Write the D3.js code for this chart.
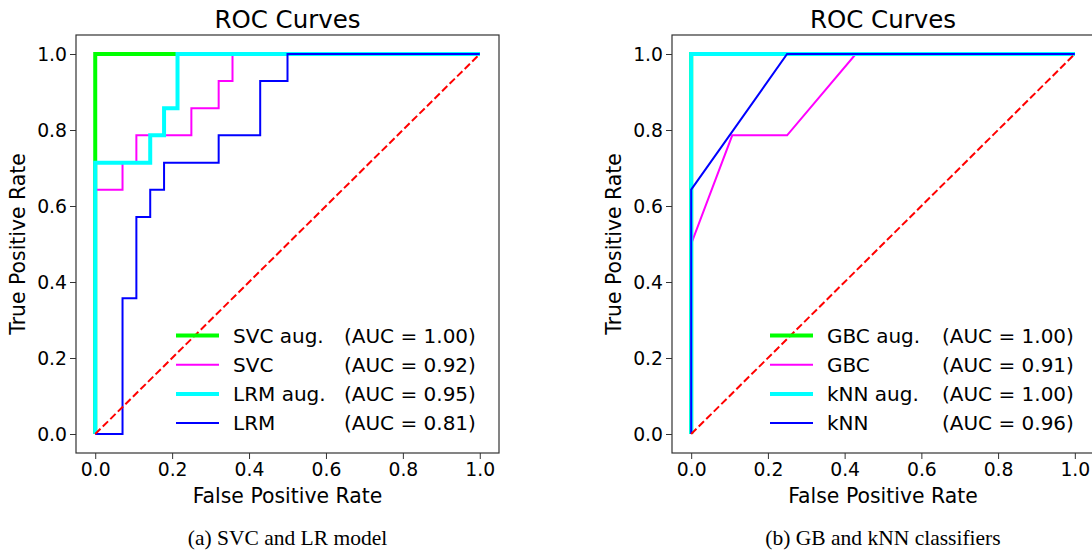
<!DOCTYPE html>
<html lang="en">
<head>
  <meta charset="UTF-8">
  <title>ROC Curves</title>
  <style>
    body { margin: 0; background: #fff; }
    text { font-family: "DejaVu Sans", sans-serif; fill: #000; }
    .caption { font-family: "Liberation Serif", "Times New Roman", serif; }
  </style>
</head>
<body>

  <section class="plot"></section>

  <script src="https://cdn.jsdelivr.net/npm/d3@7/dist/d3.min.js"></script>
  <script>
    // Data - (a) SVC and LR model
    const svcAugFpr = [0, 0, 1];
    const svcAugTpr = [0, 1, 1];
    const svcFpr = [0, 0, 0.071, 0.071, 0.107, 0.107, 0.25, 0.25, 0.321, 0.321, 0.357, 0.357, 1];
    const svcTpr = [0, 0.643, 0.643, 0.714, 0.714, 0.786, 0.786, 0.857, 0.857, 0.929, 0.929, 1, 1];
    const lrmAugFpr = [0, 0, 0.143, 0.143, 0.179, 0.179, 0.214, 0.214, 1];
    const lrmAugTpr = [0, 0.714, 0.714, 0.786, 0.786, 0.857, 0.857, 1, 1];
    const lrmFpr = [0, 0.071, 0.071, 0.107, 0.107, 0.143, 0.143, 0.179, 0.179, 0.321, 0.321, 0.429, 0.429, 0.5, 0.5, 1];
    const lrmTpr = [0, 0, 0.357, 0.357, 0.571, 0.571, 0.643, 0.643, 0.714, 0.714, 0.786, 0.786, 0.929, 0.929, 1, 1];

    // Data - (b) GB and kNN classifiers
    const gbcAugFpr = [0, 0, 1];
    const gbcAugTpr = [0, 1, 1];
    const gbcFpr = [0, 0, 0.107, 0.25, 0.429, 1];
    const gbcTpr = [0, 0.5, 0.786, 0.786, 1, 1];
    const knnAugFpr = [0, 0, 1];
    const knnAugTpr = [0, 1, 1];
    const knnFpr = [0, 0, 0.25, 1];
    const knnTpr = [0, 0.643, 1, 1];

    const namesA = ["SVC aug.", "SVC", "LRM aug.", "LRM"];
    const aucA = ["1.00", "0.92", "0.95", "0.81"];
    const namesB = ["GBC aug.", "GBC", "kNN aug.", "kNN"];
    const aucB = ["1.00", "0.91", "1.00", "0.96"];
    const captions = ["(a) SVC and LR model", "(b) GB and kNN classifiers"];
    const ticks = [0, 0.2, 0.4, 0.6, 0.8, 1.0];
    const diagonal = [0, 1];

    // line styles, same order for both panels
    const colors = ["#00ff00", "#ff00ff", "#00ffff", "#0000ff"];
    const widths = [4, 2, 4, 2];

    const svg = d3.select(".plot")
      .append("svg")
      .attr("width", 1092)
      .attr("height", 550);

    const panels = [
      { left: 76, right: 499, legendX: 176, aucX: 344, caption: captions[0], names: namesA, auc: aucA,
        series: [[svcAugFpr, svcAugTpr], [svcFpr, svcTpr], [lrmAugFpr, lrmAugTpr], [lrmFpr, lrmTpr]] },
      { left: 672, right: 1094, legendX: 770, aucX: 942, caption: captions[1], names: namesB, auc: aucB,
        series: [[gbcAugFpr, gbcAugTpr], [gbcFpr, gbcTpr], [knnAugFpr, knnAugTpr], [knnFpr, knnTpr]] }
    ];
    const plotTop = 35, plotBottom = 453;

    panels.forEach(p => {
      const g = svg.append("g");
      const x = d3.scaleLinear().domain([-0.05, 1.05]).range([p.left, p.right]);
      const y = d3.scaleLinear().domain([-0.05, 1.05]).range([plotBottom, plotTop]);
      const cx = (p.left + p.right) / 2;

      // Curves
      const line = d3.line().x(d => x(d[0])).y(d => y(d[1]));
      p.series.forEach((s, i) => {
        g.append("path")
          .attr("d", line(d3.zip(s[0], s[1])))
          .attr("fill", "none")
          .attr("stroke", colors[i])
          .attr("stroke-width", widths[i])
          .attr("stroke-linejoin", "miter");
      });

      // Chance line
      g.append("path")
        .attr("d", line(d3.zip(diagonal, diagonal)))
        .attr("fill", "none")
        .attr("stroke", "#ff0000")
        .attr("stroke-width", 2)
        .attr("stroke-dasharray", "7.4 3.2");

      // Axes
      const xAxis = g.append("g")
        .attr("transform", `translate(0,${plotBottom})`)
        .call(d3.axisBottom(x).tickValues(ticks).tickFormat(d3.format(".1f")).tickSize(6).tickPadding(4));
      const yAxis = g.append("g")
        .attr("transform", `translate(${p.left},0)`)
        .call(d3.axisLeft(y).tickValues(ticks).tickFormat(d3.format(".1f")).tickSize(6).tickPadding(3));
      [xAxis, yAxis].forEach(a => {
        a.select(".domain").remove();
        a.selectAll("line").attr("stroke", "#333");
        a.selectAll("text").attr("font-size", "18.8px").attr("font-family", "DejaVu Sans").attr("fill", "#000");
      });

      // Frame
      g.append("rect")
        .attr("x", p.left)
        .attr("y", plotTop)
        .attr("width", p.right - p.left)
        .attr("height", plotBottom - plotTop)
        .attr("fill", "none")
        .attr("stroke", "#333")
        .attr("stroke-width", 1.2);

      // Title and labels
      g.append("text")
        .attr("x", cx).attr("y", 28)
        .attr("text-anchor", "middle")
        .attr("font-size", "24.5px")
        .text("ROC Curves");
      g.append("text")
        .attr("x", cx).attr("y", 503)
        .attr("text-anchor", "middle")
        .attr("font-size", "20.4px")
        .text("False Positive Rate");
      g.append("text")
        .attr("transform", `translate(${p.left - 51},${(plotTop + plotBottom) / 2}) rotate(-90)`)
        .attr("text-anchor", "middle")
        .attr("font-size", "20.4px")
        .text("True Positive Rate");
      g.append("text")
        .attr("class", "caption")
        .attr("x", cx).attr("y", 545)
        .attr("text-anchor", "middle")
        .attr("font-size", "21.5px")
        .text(p.caption);

      // Legend
      const legend = g.append("g")
        .selectAll("g")
        .data(p.names)
        .enter()
        .append("g")
          .attr("transform", (d, i) => `translate(${p.legendX},${335.5 + i * 29.2})`);
      legend.append("line")
        .attr("x1", 0).attr("x2", 43)
        .attr("stroke", (d, i) => colors[i])
        .attr("stroke-width", (d, i) => widths[i]);
      legend.append("text")
        .attr("x", 57)
        .attr("dy", "0.35em")
        .attr("font-size", "20px")
        .text(d => d);
      legend.append("text")
        .attr("x", p.aucX - p.legendX)
        .attr("dy", "0.35em")
        .attr("font-size", "20px")
        .text((d, i) => `(AUC = ${p.auc[i]})`);
    });
  </script>
</body>
</html>
